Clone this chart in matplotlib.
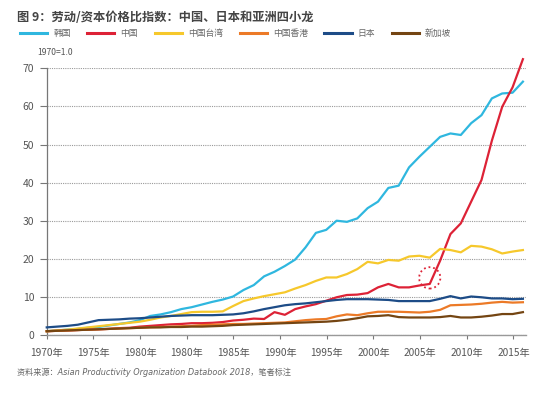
import matplotlib
matplotlib.use("Agg")
import matplotlib.pyplot as plt
from matplotlib.patches import Ellipse
import numpy as np

plt.rcParams['font.family'] = ['Noto Sans CJK SC', 'DejaVu Sans']

years = np.arange(1970, 2017)

korea = [1.0, 1.2, 1.4, 1.6, 1.9, 2.1, 2.5, 2.9, 3.3, 3.9,
         5.0, 5.4, 6.0, 6.8, 7.3, 8.0, 8.7, 9.3, 10.1, 11.8,
         13.1, 15.4, 16.6, 18.1, 19.8, 23.0, 26.8, 27.6, 30.0, 29.7,
         30.6, 33.3, 35.0, 38.6, 39.2, 44.0, 46.8, 49.4, 52.0, 52.9,
         52.5, 55.6, 57.7, 62.1, 63.4, 63.6, 66.5]
china = [1.0, 1.1, 1.2, 1.3, 1.4, 1.5, 1.6, 1.8, 1.9, 2.2,
         2.4, 2.6, 2.8, 2.9, 3.1, 3.1, 3.2, 3.4, 3.8, 4.0,
         4.3, 4.2, 6.0, 5.3, 6.8, 7.5, 8.1, 9.0, 9.9, 10.5,
         10.6, 11.0, 12.5, 13.4, 12.5, 12.5, 13.0, 13.4, 19.5, 26.5,
         29.3, 35.0, 40.7, 51.0, 59.9, 65.0, 72.4]
taiwan = [1.0, 1.2, 1.4, 1.7, 2.0, 2.3, 2.6, 2.9, 3.2, 3.5,
          4.0, 4.6, 5.0, 5.5, 6.0, 6.1, 6.1, 6.2, 7.6, 8.9,
          9.6, 10.2, 10.7, 11.2, 12.2, 13.1, 14.2, 15.1, 15.1, 16.0,
          17.3, 19.2, 18.8, 19.7, 19.5, 20.6, 20.8, 20.3, 22.6, 22.3,
          21.7, 23.4, 23.2, 22.5, 21.4, 21.9, 22.3]
hongkong = [1.0, 1.1, 1.2, 1.3, 1.4, 1.5, 1.6, 1.7, 1.8, 1.9,
            2.0, 2.1, 2.2, 2.3, 2.4, 2.6, 2.7, 2.8, 2.9, 2.9,
            3.0, 3.1, 3.2, 3.3, 3.6, 3.9, 4.1, 4.2, 4.9, 5.4,
            5.2, 5.7, 6.1, 6.1, 6.1, 6.0, 5.9, 6.1, 6.6, 7.8,
            7.9, 8.0, 8.2, 8.5, 8.7, 8.5, 8.6]
japan = [2.0, 2.2, 2.4, 2.7, 3.3, 3.9, 4.0, 4.1, 4.3, 4.4,
         4.6, 4.8, 5.0, 5.1, 5.2, 5.2, 5.2, 5.3, 5.4, 5.7,
         6.2, 6.8, 7.3, 7.8, 8.1, 8.3, 8.6, 8.9, 9.2, 9.4,
         9.4, 9.4, 9.3, 9.2, 8.9, 8.9, 8.9, 8.9, 9.5, 10.2,
         9.6, 10.1, 9.9, 9.6, 9.6, 9.4, 9.5]
singapore = [1.0, 1.1, 1.2, 1.3, 1.4, 1.5, 1.6, 1.7, 1.8, 1.9,
             2.0, 2.0, 2.1, 2.1, 2.2, 2.2, 2.3, 2.4, 2.6, 2.7,
             2.8, 2.9, 3.0, 3.1, 3.2, 3.3, 3.4, 3.5, 3.7, 4.0,
             4.4, 4.9, 5.0, 5.2, 4.7, 4.6, 4.6, 4.6, 4.7, 5.0,
             4.6, 4.6, 4.8, 5.1, 5.5, 5.5, 6.0]

names = ['韩国', '中国', '中国台湾', '中国香港', '日本', '新加坡']
colors = ['#2fb7df', '#dd2236', '#f6c82c', '#ec7a27', '#1d4c87', '#744512']
tick_labels = ['1970年', '1975年', '1980年', '1980年', '1985年', '1990年',
               '1995年', '2000年', '2005年', '2010年', '2015年']

fig = plt.figure(figsize=(5.5, 3.99), dpi=100)
ax = fig.add_axes([0.085, 0.1604, 0.8714, 0.6684])

series = [korea, china, taiwan, hongkong, japan, singapore]
# draw back to front so the Korea / China lines stay on top
order = [5, 3, 4, 2, 0, 1]
for k in order:
    ax.plot(years, series[k], color=colors[k], lw=1.6,
            solid_joinstyle='round', clip_on=False, zorder=3 + k * 0.01)

# dotted circle marking the 2007 turning point
ax.add_patch(Ellipse((2007, 15.0), 2.05, 5.6, fill=False, ec='#dd2236',
                     lw=1.3, ls=(0, (1, 1.6)), zorder=4))

ax.set_xlim(1970, 2016.3)
ax.set_ylim(0, 70)
ax.set_yticks(np.arange(0, 71, 10))
ax.set_xticks(1970 + 4.509 * np.arange(len(tick_labels)))
ax.set_xticklabels(tick_labels)
ax.yaxis.grid(True, color='#9a9a9a', lw=0.8, ls=(0, (1, 1)))
ax.set_axisbelow(True)

for s in ['top', 'right']:
    ax.spines[s].set_visible(False)
ax.spines['left'].set_color('#777777')
ax.spines['bottom'].set_color('#999999')
ax.spines['left'].set_linewidth(0.9)
ax.spines['bottom'].set_linewidth(1.0)
ax.tick_params(axis='y', length=5, width=0.8, color='#777777',
               labelsize=7.5, labelcolor='#555555', pad=4)
ax.tick_params(axis='x', length=3, width=0.8, color='#777777',
               labelsize=7.3, labelcolor='#555555', pad=6)

fig.text(0.031, 0.957, '图 9：劳动/资本价格比指数：中国、日本和亚洲四小龙',
         fontsize=8.8, fontweight='bold', color='#444444', va='center')

# legend handles as plain lines so they can be drawn thicker than the data
proxies = [plt.Line2D([], [], color=c, lw=2.2) for c in colors]
fig.legend(handles=proxies, labels=names, loc='center left',
           bbox_to_anchor=(0.022, 0.917), ncol=6, frameon=False,
           fontsize=6.3, handlelength=3.1, handletextpad=0.7,
           columnspacing=1.9, labelcolor='#666666')
fig.text(0.067, 0.868, '1970=1.0', fontsize=6.2, color='#555555', va='center')
fig.text(0.031, 0.068,
         '资料来源：Asian Productivity Organization Databook 2018，笔者标注',
         fontsize=5.9, color='#666666', va='center', style='italic',
         family=['DejaVu Sans', 'Noto Sans CJK SC'])

fig.savefig('out.png', dpi=100)
